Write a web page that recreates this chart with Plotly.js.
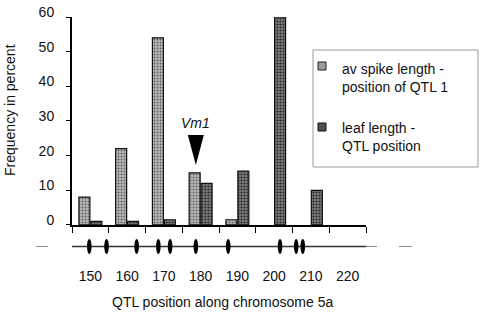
<!DOCTYPE html>
<html>
<head>
<meta charset="utf-8">
<script src="https://cdn.plot.ly/plotly-3.0.1.min.js"></script>
<style>
  html, body { margin: 0; padding: 0; background: #fff; }
  #chart { width: 484px; height: 312px; }
</style>
</head>
<body>
<div id="chart"></div>
<script>
// QTL position classes (cM along chromosome 5a)
const positions = [150, 160, 170, 180, 190, 200, 210, 220];
// Frequency (%) of QTL positions per class
const spikeLength = [8, 22, 54, 15, 1.5, 0, 0, 0];
const leafLength = [1, 1, 1.5, 12, 15.5, 60, 10, 0];
// Marker loci on the chromosome map
const markerLoci = [149.7, 154.4, 162.6, 168.5, 171.7, 178.7, 187.5, 201.6, 206.0, 207.8];
const vm1Locus = markerLoci[5];
// Class boundaries for tick marks
const classEdges = [145, 155, 165, 175, 185, 195, 205, 215, 225];
const chromSpan = [145, 225];

const seriesNames = ['av spike length -<br>position of QTL 1', 'leaf length -<br>QTL position'];
const FONT = 'Liberation Sans, Arial, Helvetica, sans-serif';
const INK = '#111';

const spikeFill = { bg: '#bababa', fg: '#626262' };
const leafFill = { bg: '#7a7a7a', fg: '#2a2a2a' };

// empty classes get no outline
const outline = vals => vals.map(v => (v > 0 ? 1.2 : 0));

const traces = [
  {
    type: 'bar', x: positions, y: spikeLength, name: seriesNames[0],
    xaxis: 'x', yaxis: 'y',
    marker: {
      color: spikeFill.bg,
      pattern: { shape: '.', bgcolor: spikeFill.bg, fgcolor: spikeFill.fg, size: 3, solidity: 0.35 },
      line: { color: INK, width: outline(spikeLength) }
    },
    hoverinfo: 'skip'
  },
  {
    type: 'bar', x: positions, y: leafLength, name: seriesNames[1],
    xaxis: 'x', yaxis: 'y',
    marker: {
      color: leafFill.bg,
      pattern: { shape: '.', bgcolor: leafFill.bg, fgcolor: leafFill.fg, size: 3, solidity: 0.4 },
      line: { color: INK, width: outline(leafLength) }
    },
    hoverinfo: 'skip'
  },
  {
    type: 'scatter', mode: 'lines', x: chromSpan, y: [0, 0],
    xaxis: 'x2', yaxis: 'y2',
    line: { color: '#333', width: 1.5 },
    hoverinfo: 'skip'
  }
];

// chromosome map: marker loci as small upright ellipses
const shapes = markerLoci.map(p => ({
  type: 'circle', xref: 'x2', yref: 'y2',
  xsizemode: 'pixel', ysizemode: 'pixel',
  xanchor: p, yanchor: 0,
  x0: -2.3, x1: 2.3, y0: -7.5, y1: 7.5,
  fillcolor: '#000', line: { width: 0 }
}));

// dashed continuation of the chromosome beyond the shown interval
[[-0.122, -0.082], [1.0, 1.037], [1.112, 1.156]].forEach(([a, b]) => {
  shapes.push({
    type: 'line', xref: 'paper', yref: 'y2', x0: a, x1: b, y0: 0, y1: 0,
    line: { color: '#888', width: 1 }
  });
});

// Vm1 pointer
shapes.push({
  type: 'path', xref: 'x', yref: 'y',
  xsizemode: 'pixel', ysizemode: 'pixel',
  xanchor: vm1Locus, yanchor: 17.3,
  path: 'M-8,30L8,30L0,0Z',
  fillcolor: '#000', line: { width: 0 }
});

// legend box
const px = v => (v - 72) / 294;
const py = v => (256 - v) / 239;
shapes.push({
  type: 'rect', xref: 'paper', yref: 'paper',
  x0: px(313), x1: px(478), y0: py(167), y1: py(50),
  line: { color: '#9a9a9a', width: 1 }, fillcolor: 'rgba(0,0,0,0)'
});
shapes.push({
  type: 'rect', xref: 'paper', yref: 'paper',
  x0: px(318), x1: px(326), y0: py(70), y1: py(62),
  line: { color: '#222', width: 1 }, fillcolor: '#9c9c9c'
});
shapes.push({
  type: 'rect', xref: 'paper', yref: 'paper',
  x0: px(318), x1: px(326), y0: py(131), y1: py(123),
  line: { color: '#111', width: 1 }, fillcolor: '#505050'
});

const annotations = [
  {
    text: '<i>Vm1</i>', xref: 'x', yref: 'y', x: vm1Locus, y: 17.3,
    yanchor: 'bottom', yshift: 32, showarrow: false,
    font: { family: FONT, size: 14, color: INK }
  },
  {
    text: 'Frequency in percent', xref: 'paper', yref: 'paper',
    x: px(10), y: py(110), textangle: -90, showarrow: false,
    xanchor: 'center', yanchor: 'middle',
    font: { family: FONT, size: 14, color: INK }
  },
  {
    text: 'QTL position along chromosome 5a', xref: 'paper', yref: 'paper',
    x: px(222), y: py(302), showarrow: false,
    xanchor: 'center', yanchor: 'middle',
    font: { family: FONT, size: 14, color: INK }
  },
  {
    text: seriesNames[0], xref: 'paper', yref: 'paper',
    x: px(340), y: py(78), showarrow: false, align: 'left',
    xanchor: 'left', yanchor: 'middle',
    font: { family: FONT, size: 14, color: INK }
  },
  {
    text: seriesNames[1], xref: 'paper', yref: 'paper',
    x: px(340), y: py(137), showarrow: false, align: 'left',
    xanchor: 'left', yanchor: 'middle',
    font: { family: FONT, size: 14, color: INK }
  }
];

const layout = {
  width: 484, height: 312,
  margin: { l: 72, r: 118, t: 17, b: 56 },
  paper_bgcolor: '#fff', plot_bgcolor: '#fff',
  font: { family: FONT, size: 14, color: INK },
  showlegend: false,
  barmode: 'group', bargap: 0.35, bargroupgap: 0.08,
  xaxis: {
    anchor: 'y', range: chromSpan, tickmode: 'array', tickvals: classEdges,
    ticks: 'outside', ticklen: 6, tickwidth: 1, tickcolor: '#000',
    showticklabels: false, showgrid: false, zeroline: false,
    showline: true, linecolor: '#000', linewidth: 2
  },
  xaxis3: {
    overlaying: 'x', anchor: 'y', matches: 'x', range: chromSpan,
    tickmode: 'array', tickvals: classEdges,
    ticks: 'inside', ticklen: 4, tickwidth: 1, tickcolor: '#000',
    showticklabels: false, showgrid: false, zeroline: false, showline: false
  },
  yaxis: {
    domain: [0.13, 1], range: [0, 60], dtick: 10,
    ticks: 'outside', ticklen: 4, tickwidth: 1, tickcolor: '#000',
    ticklabelstandoff: 9, ticklabelshift: -5,
    showgrid: false, zeroline: false,
    showline: true, linecolor: '#000', linewidth: 2,
    tickfont: { family: FONT, size: 14, color: INK }
  },
  xaxis2: {
    anchor: 'y2', matches: 'x', range: chromSpan,
    tickmode: 'array', tickvals: positions, ticks: '',
    ticklabelstandoff: 10,
    showgrid: false, zeroline: false, showline: false,
    tickfont: { family: FONT, size: 14, color: INK }
  },
  yaxis2: {
    domain: [0, 0.08], range: [-1, 1], visible: false, fixedrange: true
  },
  shapes: shapes,
  annotations: annotations
};

Plotly.newPlot('chart', traces, layout, { staticPlot: true, displayModeBar: false });
</script>
</body>
</html>
